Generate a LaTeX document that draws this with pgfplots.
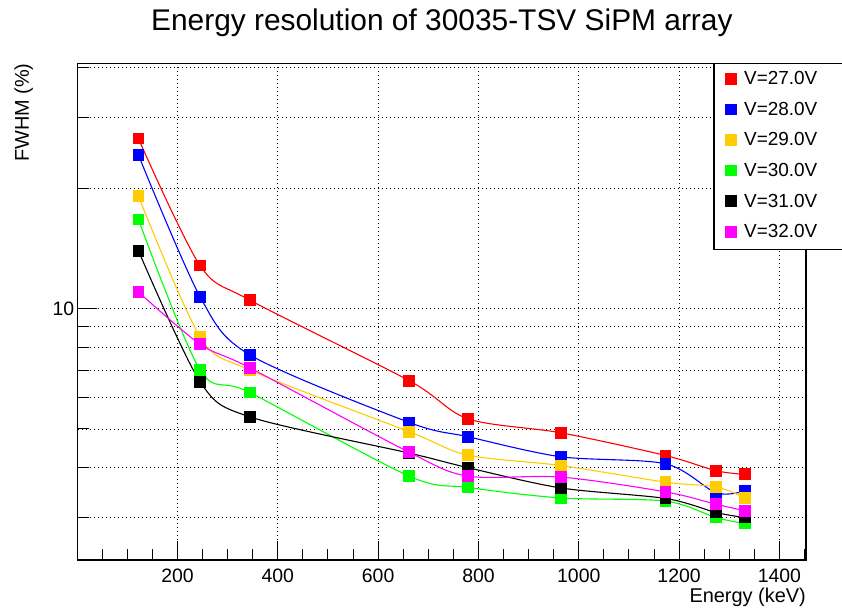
\documentclass[border=0pt]{standalone}
\usepackage{fontspec}
\setmainfont{Liberation Sans}
\usepackage{pgfplots}
\pgfplotsset{compat=1.18}
\definecolor{rred}{RGB}{255,0,0}
\definecolor{rblue}{RGB}{0,0,255}
\definecolor{rorange}{RGB}{255,204,0}
\definecolor{rgreen}{RGB}{0,255,0}
\definecolor{rmag}{RGB}{255,0,255}
\begin{document}
\begin{tikzpicture}
\useasboundingbox (0,0) rectangle (842bp,612bp);
\begin{axis}[
  at={(77.7bp,52bp)}, anchor=south west,
  scale only axis, width=728.3bp, height=496.7bp,
  ymode=log, xmin=1, xmax=1453, ymin=2.351, ymax=41.02,
  clip=false,
  axis line style={line width=1.1bp},
  tick pos=left, tick align=inside,
  major tick length=19bp, minor tick length=11bp,
  every tick/.style={black, line width=1bp},
  xtick={200,400,...,1400}, minor xtick={50,100,...,1450},
  ytick={10}, yticklabels={10},
  minor ytick={3,4,5,6,7,8,9,20,30,40},
  xmajorgrids=true, ymajorgrids=true, yminorgrids=true,
  major grid style={black, line width=0.8bp, dash pattern=on 1bp off 3bp},
  minor grid style={black, line width=0.8bp, dash pattern=on 1bp off 3bp},
  /pgf/number format/assume math mode=true,
  /pgf/number format/1000 sep={},
  tick label style={font=\fontsize{19.5}{23}\selectfont},
  xticklabel style={anchor=base, yshift=-23bp},
  title={Energy resolution of 30035-TSV SiPM array},
  title style={at={(0.5,1)}, anchor=base, yshift=27.3bp, font=\fontsize{30}{36}\selectfont},
  xlabel={Energy (keV)},
  xlabel style={at={(axis description cs:1,0)}, anchor=base east, yshift=-43bp, inner sep=0pt, font=\fontsize{20}{24}\selectfont},
  ylabel={FWHM (\%)},
  ylabel style={at={(axis description cs:-0.0669,1)}, anchor=base east, inner sep=0pt, font=\fontsize{20}{24}\selectfont},
  every axis plot/.append style={line width=1.1bp, mark=square*, mark size=5.3bp, smooth, tension=0.5},
  legend image code/.code={\draw[#1,sharp plot] plot coordinates {(0bp,0bp)};},
  legend cell align=left,
  legend style={at={(axis description cs:0.8737,1)}, anchor=north west, draw=none, fill=none,
    inner xsep=11.4bp, inner ysep=0bp, row sep=0bp, column sep=6bp,
    font=\fontsize{19}{22}\selectfont,
    nodes={minimum height=30.6bp, inner ysep=0bp}},
]
\addplot[color=rred, mark options={fill=rred, draw=rred}] coordinates {
 (122,26.6) (245,12.8) (344,10.5) (662,6.60) (779,5.30) (964,4.89) (1173,4.29) (1274,3.93) (1332,3.85)};
\addlegendentry{V=27.0V}
\addplot[color=rblue, mark options={fill=rblue, draw=rblue}] coordinates {
 (122,24.2) (245,10.7) (344,7.66) (662,5.19) (779,4.78) (964,4.26) (1173,4.09) (1274,3.46) (1332,3.50)};
\addlegendentry{V=28.0V}
\addplot[color=rorange, mark options={fill=rorange, draw=rorange}] coordinates {
 (122,19.1) (245,8.50) (344,7.02) (662,4.92) (779,4.30) (964,4.05) (1173,3.68) (1274,3.58) (1332,3.36)};
\addlegendentry{V=29.0V}
\addplot[color=rgreen, mark options={fill=rgreen, draw=rgreen}] coordinates {
 (122,16.7) (245,7.02) (344,6.17) (662,3.81) (779,3.57) (964,3.36) (1173,3.30) (1274,3.00) (1332,2.90)};
\addlegendentry{V=30.0V}
\addplot[color=black, mark options={fill=black, draw=black}] coordinates {
 (122,13.95) (245,6.56) (344,5.36) (662,4.35) (779,4.00) (964,3.56) (1173,3.35) (1274,3.09) (1332,3.00)};
\addlegendentry{V=31.0V}
\addplot[color=rmag, mark options={fill=rmag, draw=rmag}] coordinates {
 (122,11.0) (245,8.14) (344,7.11) (662,4.37) (779,3.81) (964,3.79) (1173,3.48) (1274,3.24) (1332,3.12)};
\addlegendentry{V=32.0V}
\draw[line width=1.1bp, fill=white] (axis description cs:1.1,1) -- (axis description cs:0.8737,1) -- (axis description cs:0.8737,0.6258) -- (axis description cs:1.1,0.6258);
\end{axis}
\end{tikzpicture}
\end{document}
